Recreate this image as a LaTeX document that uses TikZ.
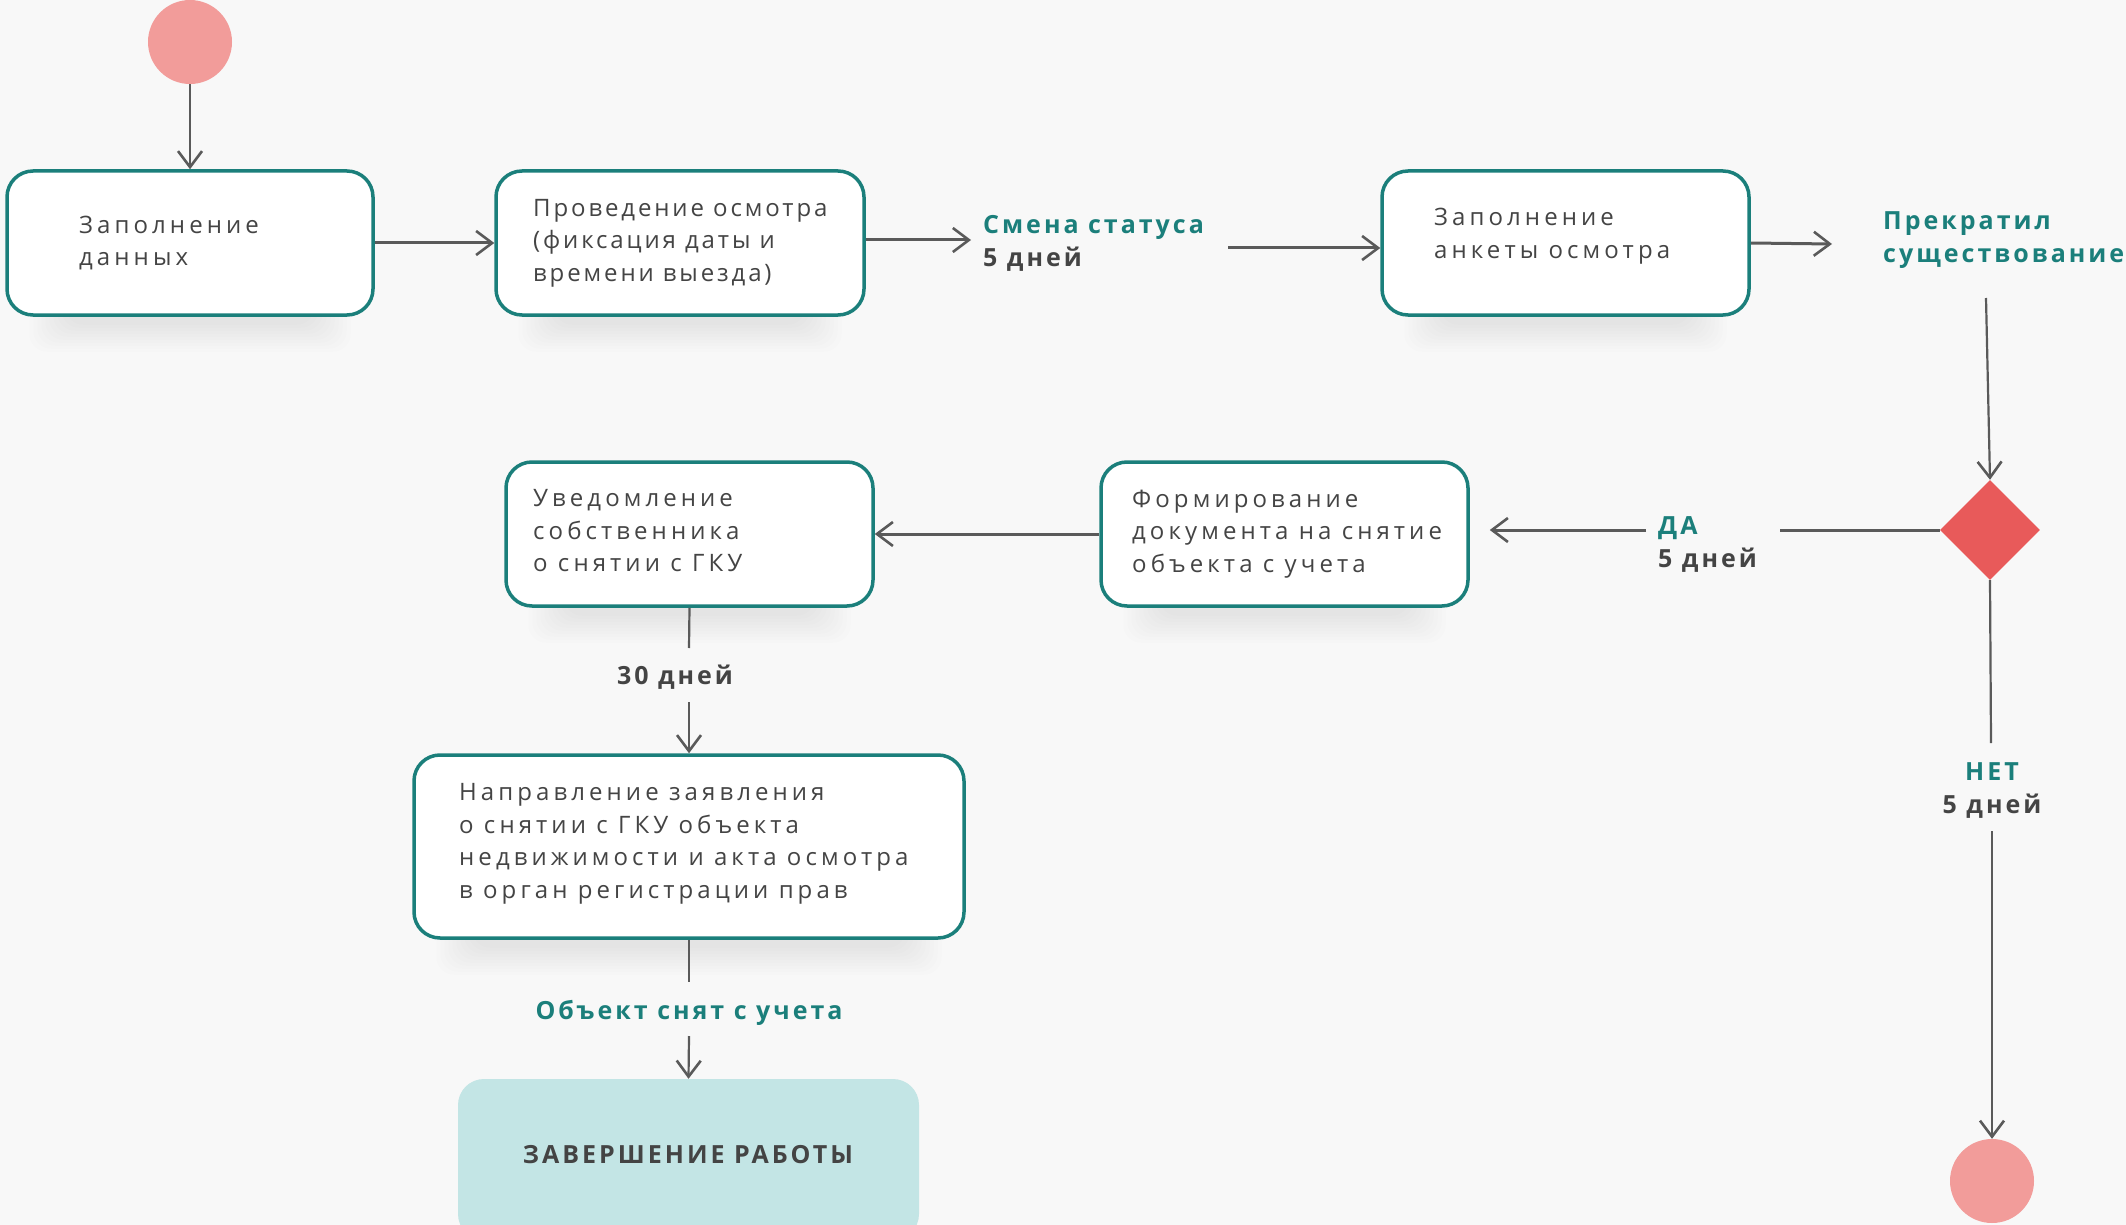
\documentclass[tikz,border=0pt]{standalone}
\usepackage{fontspec}
\setmainfont{Open Sans}
\newfontfamily\bodyfont[LetterSpace=17]{Open Sans}
\newfontfamily\bodyfonttight[LetterSpace=12]{Open Sans}
\newfontfamily\labfont[LetterSpace=12]{Open Sans}
\usetikzlibrary{arrows.meta,shapes.geometric}
\pgfdeclarelayer{back}
\pgfdeclarelayer{shade}
\pgfsetlayers{back,shade,main}
\definecolor{teal1}{HTML}{1B7F7B}
\definecolor{txt}{HTML}{444444}
\definecolor{arr}{HTML}{5A5A5A}
\definecolor{bg}{HTML}{F8F8F8}
\definecolor{pinkc}{HTML}{F29C9A}
\definecolor{redd}{HTML}{E85A5A}
\definecolor{endfill}{HTML}{C3E5E5}
\tikzset{
  box/.style={draw=teal1, line width=3.5pt, fill=white, rounded corners=26pt, inner sep=0pt},
  body/.style={font=\bodyfont\fontsize{24}{32.5}\selectfont, text=txt, align=left, anchor=west, inner sep=0pt},
  bodytight/.style={body, font=\bodyfonttight\fontsize{24}{32.5}\selectfont},
  lab/.style={font=\labfont\bfseries\fontsize{25}{33}\selectfont, align=left, anchor=west, inner sep=0pt},
  conn/.style={draw=arr, line width=2.2pt},
  hconn/.style={draw=arr, line width=3pt},
  tip/.style={-{Straight Barb[length=16pt,width=24pt,line width=2.6pt]}},
  dot/.style={circle, fill=pinkc, minimum size=84pt, inner sep=0pt},
  shadelayer/.style={fill=black, opacity=0.007, rounded corners=18pt}
}
\newcommand{\softshade}[1]{%
  \foreach \i in {0,...,9}{%
    \fill[shadelayer] ([xshift=60pt-\i*4pt, yshift=20pt]#1.south west) rectangle ([xshift=-60pt+\i*4pt, yshift=-8pt-\i*3pt]#1.south east);
  }}
\begin{document}
\begin{tikzpicture}[x=1pt,y=-1pt]
\clip (0,0) rectangle (2126,1225);
\begin{pgfonlayer}{back}
\fill[bg] (0,0) rectangle (2126,1225);
\end{pgfonlayer}

% nodes
\node[dot] (start) at (190,42) {};
\node[box, minimum width=366pt, minimum height=144pt] (b1) at (190,243) {};
\node[box, minimum width=368pt, minimum height=144pt] (b2) at (680,243) {};
\node[box, minimum width=367pt, minimum height=144pt] (b3) at (1565.5,243) {};
\node[box, minimum width=367pt, minimum height=144pt] (b4) at (689.5,534) {};
\node[box, minimum width=367pt, minimum height=144pt] (b5) at (1284.5,534) {};
\node[box, minimum width=550pt, minimum height=183pt] (b6) at (689,846.5) {};
\node[fill=endfill, rounded corners=26pt, minimum width=461pt, minimum height=161pt, inner sep=0pt] (fin) at (688.5,1159.5) {};
\node[diamond, fill=redd, minimum width=100pt, minimum height=100pt, inner sep=0pt] (dia) at (1990,530) {};
\node[dot] (end) at (1992,1181) {};

\begin{pgfonlayer}{shade}
\softshade{b1}\softshade{b2}\softshade{b3}\softshade{b4}\softshade{b5}\softshade{b6}
\end{pgfonlayer}

% texts
\node[body] (t1) at (79,243) {Заполнение\\данных};
\node[bodytight] (t2) at (533,243) {Проведение осмотра\\(фиксация даты и\\времени выезда)};
\node[body] (t3) at (1434,236) {Заполнение\\анкеты осмотра};
\node[body] (t4) at (533,531) {Уведомление\\собственника\\о снятии с ГКУ};
\node[body] (t5) at (1132,534) {Формирование\\документа на снятие\\объекта с учета};
\node[body] (t6) at (459,844) {Направление заявления\\о снятии с ГКУ объекта\\недвижимости и акта осмотра\\в орган регистрации прав};
\node[lab] (l1) at (983,243) {\textcolor{teal1}{Смена статуса}\\\textcolor{txt}{5 дней}};
\node[lab, text=teal1] (l2) at (1883,240) {Прекратил\\существование};
\node[lab] (l3) at (1658,544) {\textcolor{teal1}{ДА}\\\textcolor{txt}{5 дней}};
\node[lab, align=center, anchor=center] (l4) at (1992,791) {\textcolor{teal1}{НЕТ}\\\textcolor{txt}{5 дней}};
\node[lab, text=txt, anchor=center] (l5) at (675,677) {30 дней};
\node[lab, text=teal1, anchor=center] (l6) at (689,1013) {Объект снят с учета};
\node[lab, text=txt, anchor=center] (l7) at (688,1155) {ЗАВЕРШЕНИЕ РАБОТЫ};

% coordinates
\coordinate (c1) at (971,240);
\coordinate (c2) at (1228,248);
\coordinate (c3) at (1832,244);
\coordinate (c4) at (1986,298);
\coordinate (c5) at (1780,530);
\coordinate (c6) at (1646,530);
\coordinate (c7) at (689,648);
\coordinate (c8) at (689,702);
\coordinate (c9) at (689,982);
\coordinate (c10) at (689,1036);
\coordinate (c11) at (1991,743);
\coordinate (c12) at (1992,831);

% connectors
\draw[conn, tip] (start.south) -- (b1.north);
\draw[hconn, tip] (b1.east) -- (b2.west);
\draw[hconn, tip] (b2.east |- c1) -- (c1);
\draw[hconn, tip] (c2) -- (b3.west |- c2);
\draw[hconn, tip] (b3.east) -- (c3);
\draw[conn, tip] (c4) -- (dia.north);
\draw[hconn] (dia.west) -- (c5);
\draw[hconn, tip, shorten >=20pt] (c6) -- (b5.east |- c6);
\draw[hconn, tip] (b5.west) -- (b4.east);
\draw[conn] (b4.south) -- (c7);
\draw[conn, tip] (c8) -- (b6.north);
\draw[conn] (b6.south) -- (c9);
\draw[conn, tip] (c10) -- (fin.north);
\draw[conn] (dia.south) -- (c11);
\draw[conn, tip] (c12) -- (end.north);
\end{tikzpicture}
\end{document}
